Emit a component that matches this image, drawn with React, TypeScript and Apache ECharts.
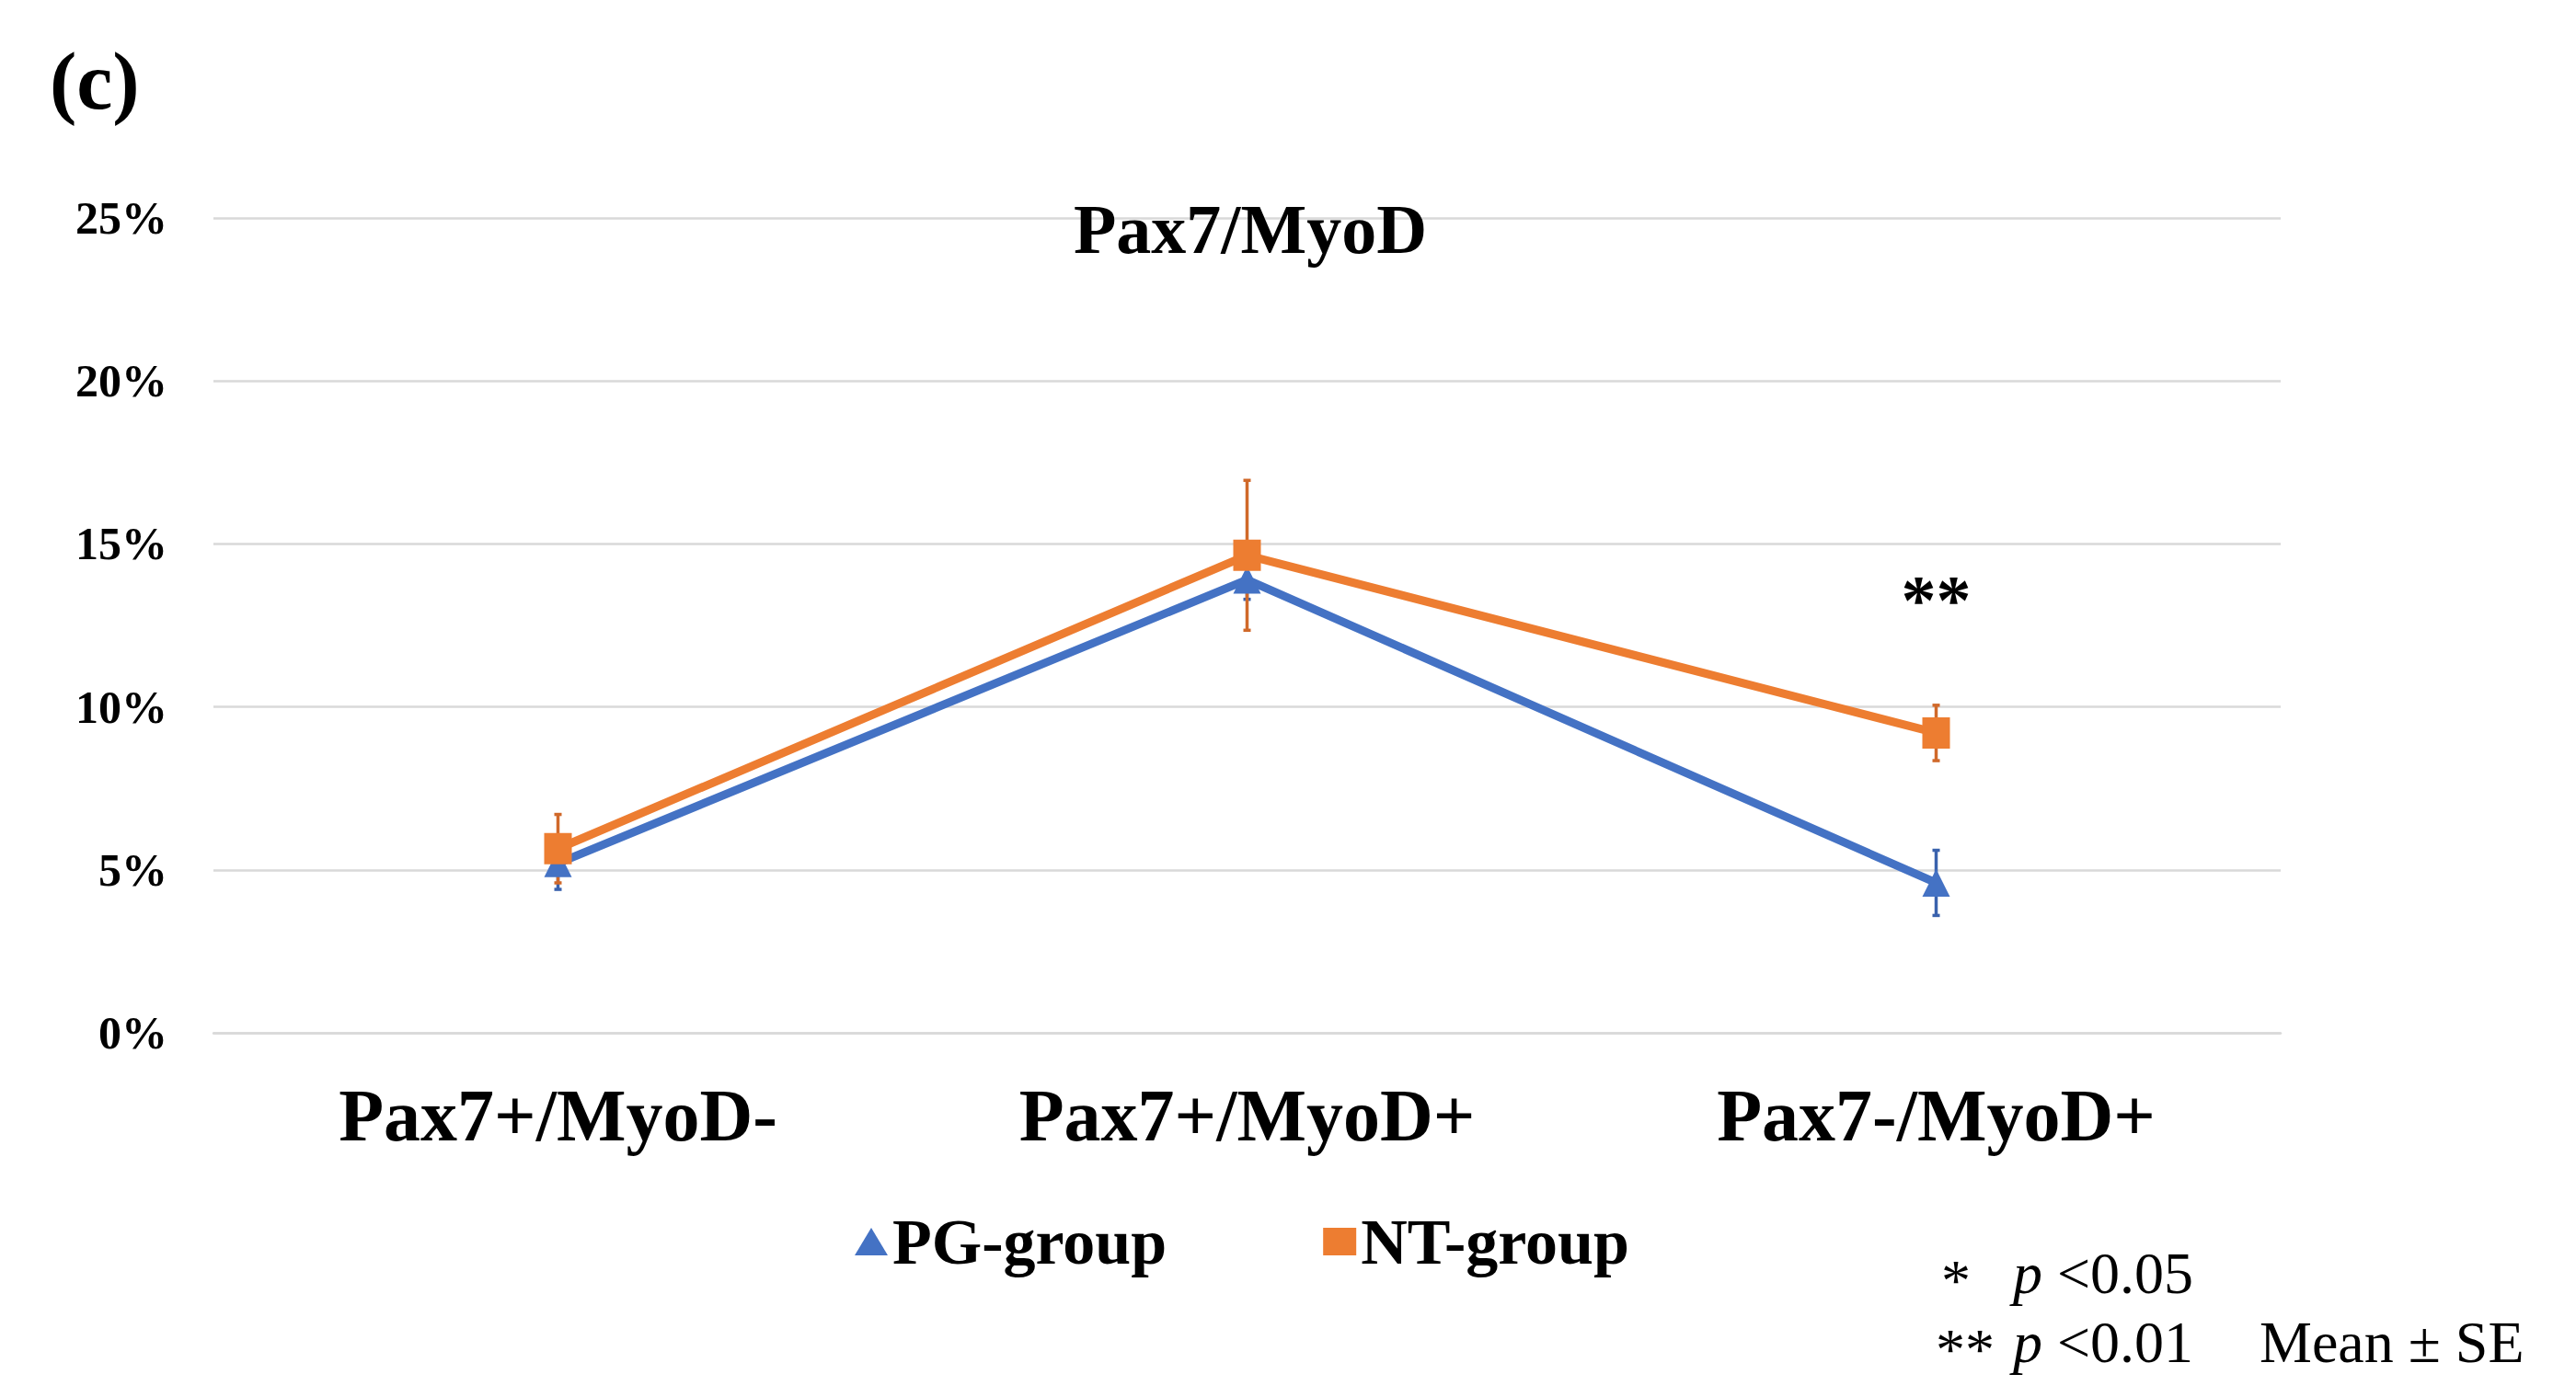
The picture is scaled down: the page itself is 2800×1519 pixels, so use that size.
import { useEffect, useRef } from "react";
import * as echarts from "echarts";

const categories = ["Pax7+/MyoD-", "Pax7+/MyoD+", "Pax7-/MyoD+"];
const pgMean = [5.2, 13.9, 4.6];
const pgSE = [0.8, 0.6, 1.0];
const ntMean = [5.65, 14.65, 9.2];
const ntSE = [1.05, 2.3, 0.85];
const seriesNames = ["PG-group", "NT-group"];

const BLUE = "#4472C4";
const ORANGE = "#ED7D31";
const SERIF = "'Liberation Serif', 'Times New Roman', serif";

const errorData = (mean: number[], se: number[]) =>
  mean.map((m, i) => [i, m, m - se[i], m + se[i]]);

const errorBars = (color: string) => (params: any, api: any) => {
  const x = api.value(0);
  const lo = api.coord([x, api.value(2)]);
  const hi = api.coord([x, api.value(3)]);
  const cap = 4;
  const style = { stroke: color, lineWidth: 3.5 };
  return {
    type: "group",
    children: [
      { type: "line", shape: { x1: lo[0], y1: lo[1], x2: hi[0], y2: hi[1] }, style },
      { type: "line", shape: { x1: hi[0] - cap, y1: hi[1], x2: hi[0] + cap, y2: hi[1] }, style },
      { type: "line", shape: { x1: lo[0] - cap, y1: lo[1], x2: lo[0] + cap, y2: lo[1] }, style },
    ],
  };
};

const App = () => {
  const chartRef = useRef<HTMLDivElement>(null);

  useEffect(() => {
    document.body.style.margin = "0";
    if (!chartRef.current) return;
    const chart = echarts.init(chartRef.current, undefined, { renderer: "svg" });

    const noteFont = `64px ${SERIF}`;
    const noteItalic = `italic 64px ${SERIF}`;

    const option: echarts.EChartsOption = {
      animation: false,
      backgroundColor: "#fff",
      title: {
        text: "Pax7/MyoD",
        left: 1354,
        top: 206,
        textAlign: "center",
        textStyle: { fontFamily: SERIF, fontWeight: "bold", fontSize: 76, color: "#000" },
      },
      grid: { left: 232, right: 321, top: 237, bottom: 396 },
      legend: {
        data: [
          { name: seriesNames[0], icon: "triangle" },
          { name: seriesNames[1], icon: "rect" },
        ],
        left: 924,
        top: 1310,
        itemWidth: 36,
        itemHeight: 30,
        itemGap: 170,
        textStyle: { fontFamily: SERIF, fontWeight: "bold", fontSize: 70, color: "#000" },
      },
      xAxis: {
        type: "category",
        data: categories,
        axisLine: { lineStyle: { color: "#D9D9D9", width: 2.5 } },
        axisTick: { show: false },
        axisLabel: {
          margin: 50,
          fontFamily: SERIF,
          fontWeight: "bold",
          fontSize: 80,
          color: "#000",
        },
      },
      yAxis: {
        type: "value",
        min: 0,
        max: 25,
        interval: 5,
        axisLine: { show: false },
        axisTick: { show: false },
        splitLine: { lineStyle: { color: "#D9D9D9", width: 2.5 } },
        axisLabel: {
          formatter: "{value}%",
          margin: 50,
          fontFamily: SERIF,
          fontWeight: "bold",
          fontSize: 50,
          color: "#000",
        },
      },
      series: [
        {
          name: seriesNames[0],
          type: "line",
          data: pgMean,
          symbol: "triangle",
          symbolSize: 30,
          color: BLUE,
          lineStyle: { width: 9, color: BLUE },
          itemStyle: { color: BLUE },
          z: 3,
        },
        {
          name: seriesNames[1],
          type: "line",
          data: ntMean,
          symbol: "rect",
          symbolSize: [30, 34],
          color: ORANGE,
          lineStyle: { width: 9, color: ORANGE },
          itemStyle: { color: ORANGE },
          z: 4,
          markPoint: {
            symbol: "circle",
            symbolSize: 1,
            itemStyle: { color: "transparent" },
            data: [{ coord: [2, 13.3] }],
            label: {
              show: true,
              position: "inside",
              formatter: "**",
              fontFamily: SERIF,
              fontWeight: "bold",
              fontSize: 76,
              color: "#000",
            },
          },
        },
        {
          type: "custom",
          renderItem: errorBars("#3A62AD") as any,
          data: errorData(pgMean, pgSE),
          z: 2,
          silent: true,
        },
        {
          type: "custom",
          renderItem: errorBars("#D0692A") as any,
          data: errorData(ntMean, ntSE),
          z: 2,
          silent: true,
        },
      ],
      graphic: [
        {
          type: "text",
          x: 54,
          y: 88,
          style: { text: "(c)", font: `bold 88px ${SERIF}`, fill: "#000", verticalAlign: "middle" },
        },
        { type: "text", x: 2110, y: 1392, style: { text: "*", font: noteFont, fill: "#000", verticalAlign: "middle" } },
        { type: "text", x: 2188, y: 1384, style: { text: "p", font: noteItalic, fill: "#000", verticalAlign: "middle" } },
        { type: "text", x: 2236, y: 1384, style: { text: "<0.05", font: noteFont, fill: "#000", verticalAlign: "middle" } },
        { type: "text", x: 2104, y: 1467, style: { text: "**", font: noteFont, fill: "#000", verticalAlign: "middle" } },
        { type: "text", x: 2188, y: 1459, style: { text: "p", font: noteItalic, fill: "#000", verticalAlign: "middle" } },
        { type: "text", x: 2236, y: 1459, style: { text: "<0.01", font: noteFont, fill: "#000", verticalAlign: "middle" } },
        { type: "text", x: 2456, y: 1459, style: { text: "Mean ± SE", font: noteFont, fill: "#000", verticalAlign: "middle" } },
      ],
    };

    chart.setOption(option);
    const onResize = () => chart.resize();
    window.addEventListener("resize", onResize);
    return () => {
      window.removeEventListener("resize", onResize);
      chart.dispose();
    };
  }, []);

  return <div ref={chartRef} style={{ width: 2800, height: 1519 }} />;
};

export default App;
